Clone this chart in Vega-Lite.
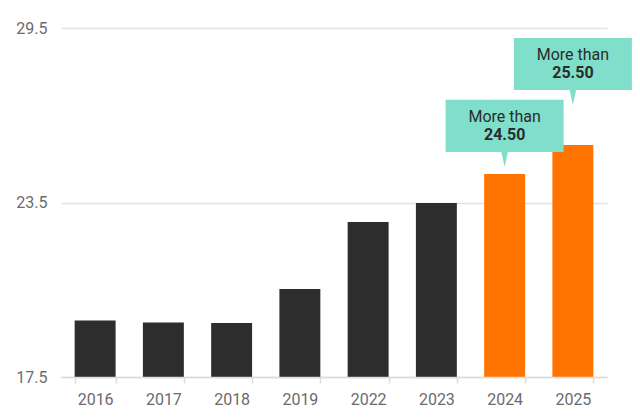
{
  "$schema": "https://vega.github.io/schema/vega-lite/v6.json",
  "width": 546,
  "height": 349,
  "autosize": {"type": "none"},
  "padding": {"left": 61, "top": 28, "right": 33, "bottom": 43},
  "background": "white",
  "config": {
    "view": {"stroke": null},
    "font": "Roboto"
  },
  "datasets": {
    "bars": [
      {"year": "2016", "value": 19.44, "type": "actual"},
      {"year": "2017", "value": 19.37, "type": "actual"},
      {"year": "2018", "value": 19.36, "type": "actual"},
      {"year": "2019", "value": 20.53, "type": "actual"},
      {"year": "2022", "value": 22.83, "type": "actual"},
      {"year": "2023", "value": 23.48, "type": "actual"},
      {"year": "2024", "value": 24.48, "type": "forecast"},
      {"year": "2025", "value": 25.48, "type": "forecast"}
    ],
    "notes": [
      {"year": "2024", "line1": "More than", "line2": "24.50", "top": 27.03, "bottom": 25.24, "tip": 24.72},
      {"year": "2025", "line1": "More than", "line2": "25.50", "top": 29.16, "bottom": 27.37, "tip": 26.85}
    ]
  },
  "encoding": {
    "x": {
      "field": "year",
      "type": "nominal",
      "sort": null,
      "scale": {"domain": ["2016", "2017", "2018", "2019", "2022", "2023", "2024", "2025"], "paddingInner": 0.4, "paddingOuter": 0.2},
      "axis": {
        "title": null,
        "labelAngle": 0,
        "labelFont": "Roboto",
        "labelFontSize": 16,
        "labelColor": "#6b6b6b",
        "labelPadding": 8,
        "domainColor": "#dcdcdc",
        "domainWidth": 1.5,
        "tickColor": "#dcdcdc",
        "tickWidth": 1.5,
        "tickSize": 6,
        "tickBand": "extent",
        "grid": false,
        "zindex": 1
      }
    }
  },
  "layer": [
    {
      "data": {"name": "bars"},
      "mark": {"type": "bar"},
      "encoding": {
        "y": {
          "field": "value",
          "type": "quantitative",
          "scale": {"domain": [17.5, 29.5], "nice": false, "zero": false},
          "axis": {
            "title": null,
            "values": [17.5, 23.5, 29.5],
            "format": ".1f",
            "labelFont": "Roboto",
            "labelFontSize": 16,
            "labelColor": "#6b6b6b",
            "labelPadding": 14,
            "domain": false,
            "ticks": false,
            "grid": true,
            "gridColor": "#e3e3e3",
            "gridWidth": 1.5
          }
        },
        "y2": {"datum": 17.5},
        "color": {
          "field": "type",
          "type": "nominal",
          "scale": {"domain": ["actual", "forecast"], "range": ["#2d2d2d", "#ff7300"]},
          "legend": null
        }
      }
    },
    {
      "data": {"name": "notes"},
      "mark": {"type": "bar", "width": 118, "color": "#7fdfca"},
      "encoding": {
        "y": {"field": "top", "type": "quantitative"},
        "y2": {"field": "bottom"}
      }
    },
    {
      "data": {"name": "notes"},
      "mark": {"type": "point", "shape": "M-0.45,-2.1L0.45,-2.1L0,0Z", "size": 225, "filled": true, "color": "#7fdfca", "opacity": 1, "strokeWidth": 0},
      "encoding": {
        "y": {"field": "tip", "type": "quantitative"}
      }
    },
    {
      "data": {"name": "notes"},
      "mark": {"type": "text", "fontSize": 16, "font": "Roboto", "color": "#2b2b2b", "baseline": "middle", "yOffset": 17},
      "encoding": {
        "y": {"field": "top", "type": "quantitative"},
        "text": {"field": "line1"}
      }
    },
    {
      "data": {"name": "notes"},
      "mark": {"type": "text", "fontSize": 16, "font": "Roboto", "fontWeight": "bold", "color": "#2b2b2b", "baseline": "middle", "yOffset": 35},
      "encoding": {
        "y": {"field": "top", "type": "quantitative"},
        "text": {"field": "line2"}
      }
    }
  ]
}
